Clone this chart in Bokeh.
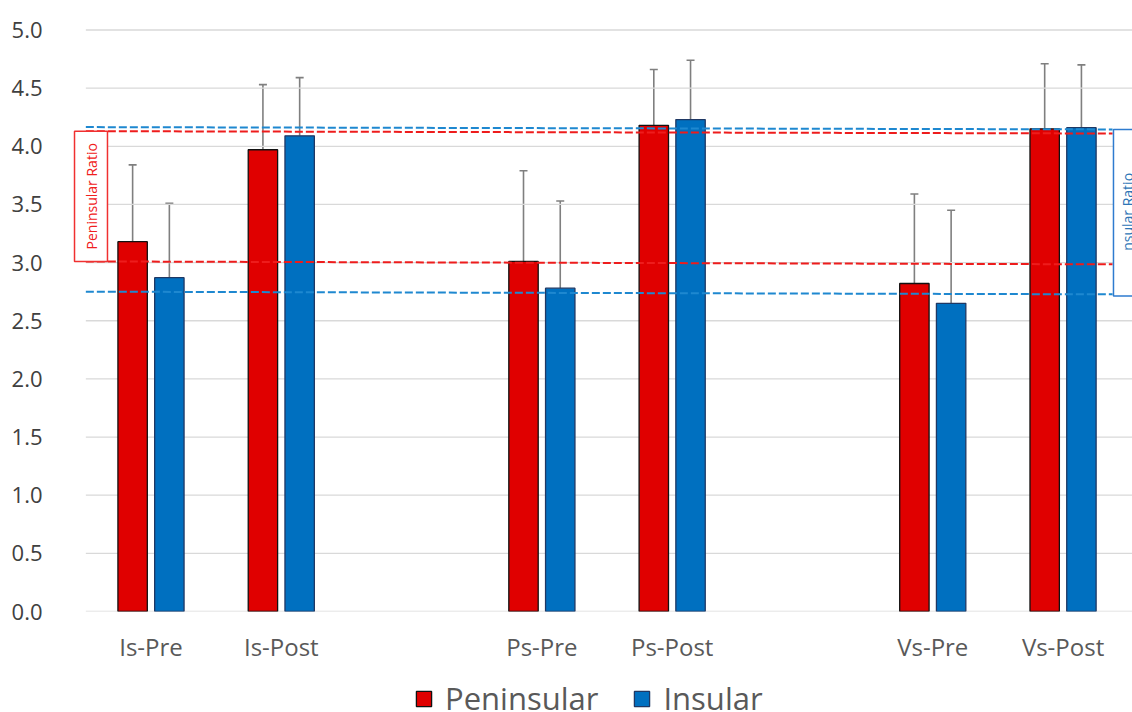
from bokeh.plotting import figure
from bokeh.layouts import column
from bokeh.models import (ColumnDataSource, FixedTicker, Whisker, TeeHead,
                          BoxAnnotation, Label, Legend, LegendItem,
                          NumeralTickFormatter, Range1d)
from bokeh.embed import file_html
from bokeh.resources import INLINE

# ---------------- data ----------------
groups = ["Is", "Ps", "Vs"]
phases = ["Pre", "Post"]
categories = ["Is-Pre", "Is-Post", "Ps-Pre", "Ps-Post", "Vs-Pre", "Vs-Post"]
series = ["Peninsular", "Insular"]

peninsular_mean = [3.18, 3.97, 3.01, 4.18, 2.82, 4.15]
peninsular_sd = [0.66, 0.56, 0.78, 0.48, 0.77, 0.56]
insular_mean = [2.87, 4.09, 2.78, 4.23, 2.65, 4.16]
insular_sd = [0.64, 0.50, 0.75, 0.51, 0.80, 0.54]

# ratio reference lines: value at left end, value at right end
peninsular_ratio_upper = [4.13, 4.11]
peninsular_ratio_lower = [3.01, 2.985]
insular_ratio_upper = [4.165, 4.145]
insular_ratio_lower = [2.75, 2.727]

y_ticks = [0.0, 0.5, 1.0, 1.5, 2.0, 2.5, 3.0, 3.5, 4.0, 4.5, 5.0]

# ---------------- layout helpers ----------------
pos = [gi * 3 + pi for gi in range(len(groups)) for pi in range(len(phases))]
off = 0.141
bw = 0.2256
x_start, x_end = -0.6485, 7.533
line_x = [-0.5, 7.38]

src = ColumnDataSource(dict(
    x_pen=[x - off for x in pos],
    x_ins=[x + off for x in pos],
    pen=peninsular_mean,
    ins=insular_mean,
    pen_up=[m + s for m, s in zip(peninsular_mean, peninsular_sd)],
    ins_up=[m + s for m, s in zip(insular_mean, insular_sd)],
))

FONT = "Open Sans"
RED, BLUE = "#E00000", "#0070C0"
RED_EDGE, BLUE_EDGE = "#111111", "#1F3864"

p = figure(width=1132, height=665, x_range=(x_start, x_end), y_range=(0, 5.0987),
           output_backend="svg", toolbar_location=None,
           min_border_left=66, min_border_right=0, min_border_top=18,
           min_border_bottom=53)
p.outline_line_color = None
p.xgrid.visible = False
p.ygrid.visible = False
p.background_fill_color = "white"

# gridlines
p.segment(x0=[line_x[0]] * len(y_ticks), x1=[x_end] * len(y_ticks),
          y0=y_ticks, y1=y_ticks, line_color="#D9D9D9", line_width=1.3)

# y axis
p.yaxis.ticker = FixedTicker(ticks=y_ticks)
p.yaxis.formatter = NumeralTickFormatter(format="0.0")
p.yaxis.axis_line_color = None
p.yaxis.major_tick_line_color = None
p.yaxis.minor_tick_line_color = None
p.yaxis.major_label_text_font = FONT
p.yaxis.major_label_text_font_size = "22px"
p.yaxis.major_label_text_color = "#404040"
p.yaxis.major_label_standoff = 18

# x axis
p.xaxis.ticker = FixedTicker(ticks=pos)
p.xaxis.major_label_overrides = {x: c for x, c in zip(pos, categories)}
p.xaxis.axis_line_color = None
p.xaxis.major_tick_line_color = None
p.xaxis.minor_tick_line_color = None
p.xaxis.major_label_text_font = FONT
p.xaxis.major_label_text_font_size = "24px"
p.xaxis.major_label_text_color = "#595959"
p.xaxis.major_label_standoff = 12

# bars
p.vbar(x="x_pen", top="pen", width=bw, source=src, fill_color=RED,
       line_color=RED_EDGE, line_width=1.3)
p.vbar(x="x_ins", top="ins", width=bw, source=src, fill_color=BLUE,
       line_color=BLUE_EDGE, line_width=1.3)

# error bars
for base, low, up in (("x_pen", "pen", "pen_up"), ("x_ins", "ins", "ins_up")):
    w = Whisker(source=src, base=base, lower=low, upper=up,
                line_color="#7F7F7F", line_width=1.6,
                upper_head=TeeHead(size=8, line_color="#7F7F7F", line_width=1.6),
                lower_head=None)
    p.add_layout(w)

# ratio dashed lines
LRED, LBLUE = "#EE1C1C", "#1E88D0"
for ys, col in ((insular_ratio_upper, LBLUE), (peninsular_ratio_upper, LRED),
                (peninsular_ratio_lower, LRED), (insular_ratio_lower, LBLUE)):
    p.line(x=line_x, y=ys, line_color=col, line_width=2, line_dash="8 3")

# ratio boxes
p.add_layout(BoxAnnotation(left=-0.587, right=-0.334,
                           top=peninsular_ratio_upper[0], bottom=peninsular_ratio_lower[0],
                           fill_color="white", fill_alpha=1.0,
                           line_color="#F03030", line_alpha=1.0, line_width=1.5))
p.add_layout(Label(x=-0.4567, y=(peninsular_ratio_upper[0] + peninsular_ratio_lower[0]) / 2,
                   text="Peninsular Ratio", angle=1.5708, text_align="center",
                   text_baseline="middle", text_font=FONT, text_font_size="14px",
                   text_color="#F02020"))
p.add_layout(BoxAnnotation(left=7.387, right=7.9,
                           top=insular_ratio_upper[1], bottom=insular_ratio_lower[1] - 0.015,
                           fill_color="white", fill_alpha=1.0,
                           line_color="#2E7BCF", line_alpha=1.0, line_width=1.5))
p.add_layout(Label(x=7.494, y=(insular_ratio_upper[1] + insular_ratio_lower[1]) / 2,
                   text="nsular Ratio", angle=1.5708, text_align="center",
                   text_baseline="middle", text_font=FONT, text_font_size="14px",
                   text_color="#2E75B6"))

# legend strip below the chart
lg = figure(width=1132, height=47, output_backend="svg", toolbar_location=None,
            x_range=Range1d(0, 1), y_range=Range1d(0, 1),
            x_axis_location=None, y_axis_location=None,
            min_border_left=0, min_border_right=0, min_border_top=0,
            min_border_bottom=0)
lg.outline_line_color = None
lg.xgrid.visible = False
lg.ygrid.visible = False
# undrawable (NaN) keys that only supply the legend swatch styles
nan = float("nan")
k_pen = lg.vbar(x=[nan], top=[nan], width=0.1, fill_color=RED, line_color=RED_EDGE, line_width=1.3)
k_ins = lg.vbar(x=[nan], top=[nan], width=0.1, fill_color=BLUE, line_color=BLUE_EDGE, line_width=1.3)
legend = Legend(items=[LegendItem(label=series[0], renderers=[k_pen]),
                       LegendItem(label=series[1], renderers=[k_ins])],
                orientation="horizontal", location=(348, -7),
                label_text_font=FONT, label_text_font_size="31px",
                label_text_color="#595959", glyph_width=19, glyph_height=19,
                label_standoff=12, spacing=34, padding=0, margin=0,
                border_line_color=None, background_fill_alpha=0)
lg.add_layout(legend)

open("out.html", "w").write(file_html(column(p, lg, spacing=0), INLINE))
